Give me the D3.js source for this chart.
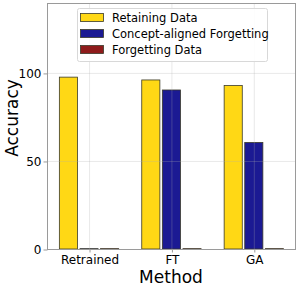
<!DOCTYPE html>
<html>
<head>
<meta charset="utf-8">
<script src="https://cdn.jsdelivr.net/npm/d3@7"></script>
<style>
  body { margin: 0; background: #fff; }
  svg { font-family: "DejaVu Sans", sans-serif; }
</style>
</head>
<body>
<div id="chart"></div>
<script>
// data
const methods = ["Retrained", "FT", "GA"];
const seriesNames = ["Retaining Data", "Concept-aligned Forgetting", "Forgetting Data"];
const seriesColors = ["#ffd815", "#1b1a93", "#8e1b1b"];
const retaining = [97.6, 96.0, 92.8];
const conceptForgetting = [0.2, 90.3, 60.5];
const forgetting = [0.2, 0.2, 0.2];
const yTicks = [0, 50, 100];

const W = 299, H = 286;
const MARGIN = { LEFT: 47, TOP: 3, RIGHT: 4, BOTTOM: 37 };
const WIDTH = W - MARGIN.LEFT - MARGIN.RIGHT;
const HEIGHT = H - MARGIN.TOP - MARGIN.BOTTOM;

const series = [retaining, conceptForgetting, forgetting];
const offsets = [-0.25, 0, 0.25];
const barW = 0.22;

const svg = d3.select("#chart").append("svg")
  .attr("width", W).attr("height", H);

const g = svg.append("g")
  .attr("transform", `translate(${MARGIN.LEFT}, ${MARGIN.TOP})`);

const x = d3.scaleLinear().domain([-0.51, 2.5]).range([0, WIDTH]);
const y = d3.scaleLinear().domain([0, 139.7]).range([HEIGHT, 0]);

// bars
series.forEach((vals, s) => {
  g.selectAll(`.bar-${s}`)
    .data(vals)
    .enter()
    .append("rect")
    .attr("class", `bar-${s}`)
    .attr("x", (d, i) => x(i + offsets[s] - barW / 2))
    .attr("width", x(barW) - x(0))
    .attr("y", (d) => y(d))
    .attr("height", (d) => HEIGHT - y(d))
    .style("fill", seriesColors[s])
    .style("stroke", "#3a3a2a")
    .style("stroke-width", 0.8);
});

// grid over bars
const grid = g.append("g").attr("class", "grid");
grid.selectAll(".gy").data(yTicks).enter().append("line")
  .attr("x1", 0).attr("x2", WIDTH)
  .attr("y1", (d) => y(d) + 0.5).attr("y2", (d) => y(d) + 0.5)
  .style("stroke", "#b0b0b0").style("stroke-opacity", 0.35).style("stroke-width", 0.8);
grid.selectAll(".gx").data(methods).enter().append("line")
  .attr("x1", (d, i) => x(i) + 0.5).attr("x2", (d, i) => x(i) + 0.5)
  .attr("y1", 0).attr("y2", HEIGHT)
  .style("stroke", "#b0b0b0").style("stroke-opacity", 0.35).style("stroke-width", 0.8);

// frame
g.append("rect")
  .attr("x", 0.5).attr("y", 0.5)
  .attr("width", WIDTH).attr("height", HEIGHT)
  .style("fill", "none").style("stroke", "#9a9a9a").style("stroke-width", 1);

// axes
const xAxisCall = d3.axisBottom(x)
  .tickValues(d3.range(methods.length))
  .tickFormat((d) => methods[d])
  .tickSize(3).tickPadding(3);
const yAxisCall = d3.axisLeft(y).tickValues(yTicks).tickSize(4).tickPadding(2);

const xAxis = g.append("g").attr("transform", `translate(0.5, ${HEIGHT + 0.5})`).call(xAxisCall);
const yAxis = g.append("g").attr("transform", "translate(0.5, 0.5)").call(yAxisCall);
[xAxis, yAxis].forEach((a) => {
  a.select(".domain").remove();
  a.selectAll(".tick line").style("stroke", "#9a9a9a");
  a.selectAll(".tick text")
    .style("font-family", "DejaVu Sans").style("font-size", "12px").style("fill", "#000");
});

// axis labels
g.append("text")
  .attr("x", WIDTH / 2).attr("y", HEIGHT + 34)
  .attr("text-anchor", "middle")
  .style("font-size", "17px")
  .text("Method");

g.append("text")
  .attr("transform", "rotate(-90)")
  .attr("x", -HEIGHT / 2 + 8).attr("y", -29)
  .attr("text-anchor", "middle")
  .style("font-size", "17px")
  .text("Accuracy");

// legend
const legend = svg.append("g").attr("transform", "translate(77, 8)");
legend.append("rect")
  .attr("x", 0.5).attr("y", 0.5).attr("width", 190).attr("height", 53).attr("rx", 2)
  .style("fill", "#fff").style("fill-opacity", 0.85)
  .style("stroke", "#d8d8d8").style("stroke-width", 1);

const item = legend.selectAll(".legend").data(seriesNames).enter()
  .append("g").attr("class", "legend")
  .attr("transform", (d, i) => `translate(0, ${i * 16})`);
item.append("rect")
  .attr("x", 3.5).attr("y", 5.5).attr("width", 23).attr("height", 8)
  .style("fill", (d, i) => seriesColors[i])
  .style("stroke", "#3a3a2a").style("stroke-width", 0.8);
item.append("text")
  .attr("x", 35).attr("y", 14)
  .style("font-size", "11.5px")
  .text((d) => d);
</script>
</body>
</html>
